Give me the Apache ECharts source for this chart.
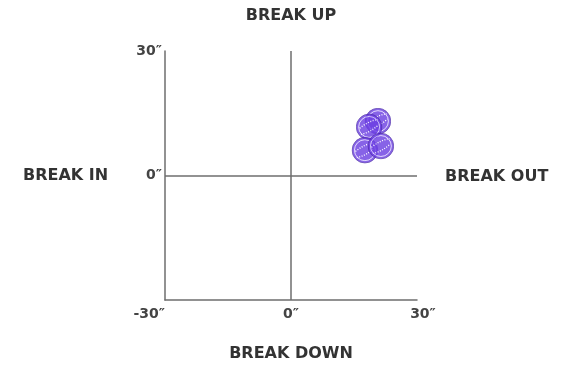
<!DOCTYPE html>
<html>
<head>
<meta charset="utf-8">
<script src="https://cdn.jsdelivr.net/npm/echarts@6/dist/echarts.min.js"></script>
<style>
  html, body { margin: 0; padding: 0; background: #fff; }
  #chart { width: 561px; height: 371px; }
</style>
</head>
<body>
<div id="chart"></div>
<script>
// pitch break, inches (horizontal, vertical)
var breakX = [20.7, 18.6, 17.6, 21.4];
var breakY = [13.1, 11.7, 6.1, 7.1];
var axisTicks = [-30, 0, 30];
var sideLabels = { up: 'BREAK UP', down: 'BREAK DOWN', left: 'BREAK IN', right: 'BREAK OUT' };

var ballSvg =
  '<svg xmlns="http://www.w3.org/2000/svg" width="40" height="40" viewBox="0 0 40 40">' +
  '<circle cx="20" cy="20" r="19" fill="#6a3ce2" stroke="#4526a0" stroke-width="1.2"/>' +
  '<circle cx="20" cy="20" r="15.5" fill="none" stroke="#e6dcff" stroke-width="1.4"/>' +
  '<path d="M6 22 Q19 11 33 9" fill="none" stroke="#ffffff" stroke-width="2" stroke-dasharray="1.5 2.2"/>' +
  '<path d="M8 31 Q22 28 34 17" fill="none" stroke="#ffffff" stroke-width="2" stroke-dasharray="1.5 2.2"/>' +
  '</svg>';
var ballSymbol = 'image://data:image/svg+xml;charset=utf-8,' + encodeURIComponent(ballSvg);

var points = breakX.map(function (x, i) { return [x, breakY[i]]; });

var font = '"DejaVu Sans", sans-serif';
var chart = echarts.init(document.getElementById('chart'));

var labelFmt = function (v) { return v + '\u2033'; };

var option = {
  animation: false,
  grid: { left: 165, right: 144, top: 51, bottom: 71 },
  xAxis: {
    type: 'value', min: axisTicks[0], max: axisTicks[2], interval: 30,
    axisLine: { onZero: false, lineStyle: { color: '#6e6e6e', width: 1.5 } },
    axisTick: { show: false },
    splitLine: { show: false },
    axisLabel: {
      formatter: function (v) { return v === axisTicks[2] ? '{end|' + labelFmt(v) + '}' : labelFmt(v); },
      margin: 7, color: '#444', fontSize: 14, fontWeight: 'bold', fontFamily: font,
      alignMinLabel: 'right', alignMaxLabel: 'center',
      rich: { end: { padding: [0, 0, 0, 12], color: '#444', fontSize: 14, fontWeight: 'bold', fontFamily: font } }
    }
  },
  yAxis: {
    type: 'value', min: axisTicks[0], max: axisTicks[2], interval: 30,
    axisLine: { show: true, onZero: false, lineStyle: { color: '#6e6e6e', width: 1.5 } },
    axisTick: { show: false },
    splitLine: { show: false },
    axisLabel: { showMinLabel: false, formatter: labelFmt, margin: 3, color: '#444', fontSize: 14, fontWeight: 'bold', fontFamily: font }
  },
  graphic: [
    { type: 'text', x: 291, y: 8, style: { text: sideLabels.up, textAlign: 'center', fill: '#333', font: 'bold 16px ' + font } },
    { type: 'text', x: 291, y: 346, style: { text: sideLabels.down, textAlign: 'center', fill: '#333', font: 'bold 16px ' + font } },
    { type: 'text', x: 23, y: 168, style: { text: sideLabels.left, fill: '#333', font: 'bold 16px ' + font } },
    { type: 'text', x: 445, y: 169, style: { text: sideLabels.right, fill: '#333', font: 'bold 16px ' + font } }
  ],
  series: [{
    type: 'scatter',
    data: points,
    symbol: ballSymbol,
    symbolSize: 27,
    markLine: {
      silent: true,
      symbol: 'none',
      label: { show: false },
      lineStyle: { color: '#6e6e6e', width: 1.5, type: 'solid' },
      data: [{ xAxis: 0 }, { yAxis: 0 }]
    }
  }]
};
chart.setOption(option);
</script>
</body>
</html>
